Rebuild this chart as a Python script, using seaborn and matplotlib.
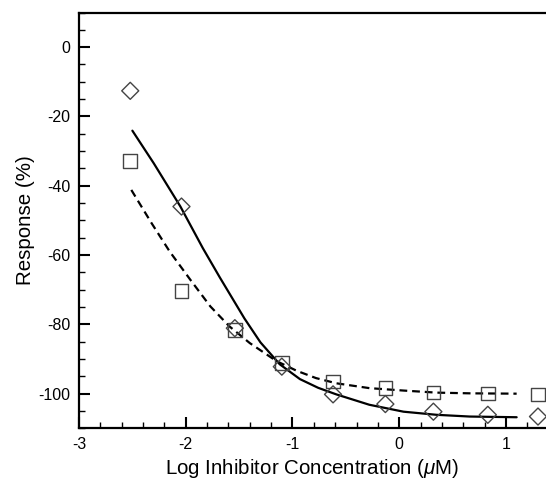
import numpy as np
import pandas as pd
import matplotlib
matplotlib.use("Agg")
import matplotlib.pyplot as plt
import seaborn as sns
from matplotlib.ticker import MultipleLocator

# Measured points (log concentration, response %)
log_conc = [-2.52, -2.04, -1.54, -1.10, -0.62, -0.13, 0.32, 0.83, 1.30]
resp_square = [-32.9, -70.3, -81.6, -91.2, -96.5, -98.4, -99.7, -99.9, -100.3]
resp_diamond = [-12.6, -46.0, -81.1, -92.2, -100.2, -103.0, -105.2, -106.1, -106.6]

# Fitted curves
solid_x = [-2.50, -2.30, -2.05, -1.84, -1.68, -1.45, -1.30, -1.12, -0.93, -0.76,
           -0.59, -0.28, 0.04, 0.35, 0.66, 1.10]
solid_y = [-24.1, -33.5, -46.0, -58.0, -66.5, -78.3, -85.2, -91.5, -95.8, -98.3,
           -100.2, -103.2, -105.2, -106.1, -106.6, -106.8]
dashed_x = [-2.51, -2.32, -2.15, -1.96, -1.77, -1.59, -1.40, -1.15, -0.96, -0.78,
            -0.59, -0.28, 0.04, 0.35, 0.66, 1.10]
dashed_y = [-41.2, -50.8, -59.0, -67.0, -74.8, -80.6, -85.4, -90.6, -93.4, -95.5,
            -97.0, -98.4, -99.1, -99.7, -99.9, -100.0]

sns.set_style("ticks")
plt.rcParams['font.family'] = ['Liberation Sans', 'DejaVu Sans']
plt.rcParams['mathtext.fontset'] = 'custom'
plt.rcParams['mathtext.it'] = 'Liberation Sans:italic'
plt.rcParams['axes.unicode_minus'] = False
for key in ['text.color', 'axes.labelcolor', 'xtick.color', 'ytick.color', 'axes.edgecolor']:
    plt.rcParams[key] = 'black'

fig = plt.figure(figsize=(5.46, 4.83), dpi=100)
ax = fig.add_axes([0.1447, 0.1132, 0.8553, 0.8609])

sns.lineplot(x=solid_x, y=solid_y, ax=ax, color="black", lw=1.6, sort=False)
sns.lineplot(x=dashed_x, y=dashed_y, ax=ax, color="black", lw=1.6,
             linestyle=(0, (3.5, 2.2)), sort=False)

pts = pd.DataFrame({"x": log_conc, "sq": resp_square, "di": resp_diamond})
sns.scatterplot(data=pts, x="x", y="sq", ax=ax, marker="s", s=95,
                facecolor="none", edgecolor="#444444", linewidth=1.0, zorder=3)
sns.scatterplot(data=pts, x="x", y="di", ax=ax, marker="D", s=75,
                facecolor="none", edgecolor="#444444", linewidth=1.0, zorder=3)

ax.set_xlim(-3, 1.375)
ax.set_ylim(-110, 10)
ax.set_xticks([-3, -2, -1, 0, 1])
ax.set_yticks([0, -20, -40, -60, -80, -100])
ax.xaxis.set_minor_locator(MultipleLocator(0.2))
ax.yaxis.set_minor_locator(MultipleLocator(5))
ax.tick_params(which="major", direction="in", length=8, width=1.5, labelsize=11.5, pad=6)
ax.tick_params(which="minor", direction="in", length=4, width=1.0)
ax.tick_params(top=False, right=False)

for side in ["left", "bottom", "top"]:
    ax.spines[side].set_linewidth(1.6)
ax.spines["right"].set_visible(False)

ax.set_xlabel(r"Log Inhibitor Concentration ($\mu$M)", fontsize=14.8, labelpad=4)
ax.set_ylabel("Response (%)", fontsize=14.8, labelpad=3)

fig.savefig("out.png", dpi=100)
